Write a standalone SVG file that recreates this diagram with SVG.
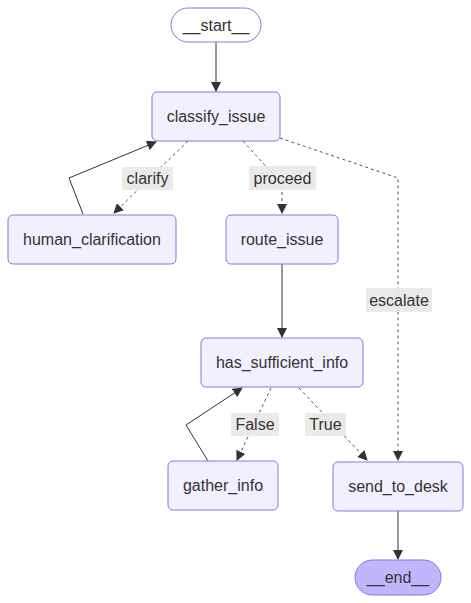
<svg xmlns="http://www.w3.org/2000/svg" width="471" height="603" viewBox="0 0 471 603">
<defs>
<marker id="arr" viewBox="0 0 10 10" refX="9" refY="5" markerWidth="10" markerHeight="10" markerUnits="userSpaceOnUse" orient="auto">
<path d="M0,0 L10,5 L0,10 z" fill="#333333"/>
</marker>
<style>
.node rect{fill:#f2f0ff;stroke:#9370db;stroke-width:1}
.node text{font-family:"Liberation Sans",Arial,sans-serif;font-size:16px;fill:#333333;text-anchor:middle;dominant-baseline:central}
.e{fill:none;stroke:#333333;stroke-width:1;marker-end:url(#arr)}
.d{stroke-dasharray:3,3;stroke:#555555}
.lb rect{fill:#e8e8e8;opacity:0.9}
.lb text{font-family:"Liberation Sans",Arial,sans-serif;font-size:16px;fill:#333333;text-anchor:middle;dominant-baseline:central}
</style>
</defs>
<rect width="471" height="603" fill="#ffffff"/>
<g id="edges">
<path class="e" d="M216,42 L216,91"/>
<path class="e d" d="M188,141 L114,213"/>
<path class="e" d="M83,214 L69,178 L156,142"/>
<path class="e d" d="M243,141 L282,184 L282,213"/>
<path class="e d" d="M280,138 L398,178 L398,460"/>
<path class="e" d="M282,264 L282,337"/>
<path class="e d" d="M271,388 L237,460"/>
<path class="e" d="M208,461 L186,425 L242,388"/>
<path class="e d" d="M299,388 L367,460"/>
<path class="e" d="M398,511 L398,559"/>
<g class="lb"><rect x="122" y="167" width="51" height="23"/><text x="147.5" y="178.5">clarify</text></g>
<g class="lb"><rect x="249" y="166" width="67" height="24"/><text x="282.5" y="178">proceed</text></g>
<g class="lb"><rect x="366" y="288" width="66" height="24"/><text x="399" y="300">escalate</text></g>
<g class="lb"><rect x="231" y="413" width="48" height="23"/><text x="255" y="424.5">False</text></g>
<g class="lb"><rect x="305" y="413" width="41" height="23"/><text x="325.5" y="424.5">True</text></g>
</g>
<g id="start" class="node"><rect x="171" y="8" width="90" height="34" rx="17" style="fill:#ffffff"/><text x="216" y="25">__start__</text></g>
<g id="classify_issue" class="node"><rect x="152" y="92" width="128" height="49" rx="5"/><text x="216" y="116.5">classify_issue</text></g>
<g id="human_clarification" class="node"><rect x="8" y="215" width="168" height="49" rx="5"/><text x="92" y="239.5">human_clarification</text></g>
<g id="route_issue" class="node"><rect x="226" y="215" width="112" height="49" rx="5"/><text x="282" y="239.5">route_issue</text></g>
<g id="has_sufficient_info" class="node"><rect x="201" y="338" width="162" height="49" rx="5"/><text x="282" y="362.5">has_sufficient_info</text></g>
<g id="gather_info" class="node"><rect x="168" y="461" width="110" height="49" rx="5"/><text x="223" y="485.5">gather_info</text></g>
<g id="send_to_desk" class="node"><rect x="333" y="462" width="130" height="49" rx="5"/><text x="398" y="486.5">send_to_desk</text></g>
<g id="end" class="node"><rect x="355" y="560" width="86" height="35" rx="17.5" style="fill:#bfb6fc"/><text x="398" y="577.5">__end__</text></g>
</svg>
